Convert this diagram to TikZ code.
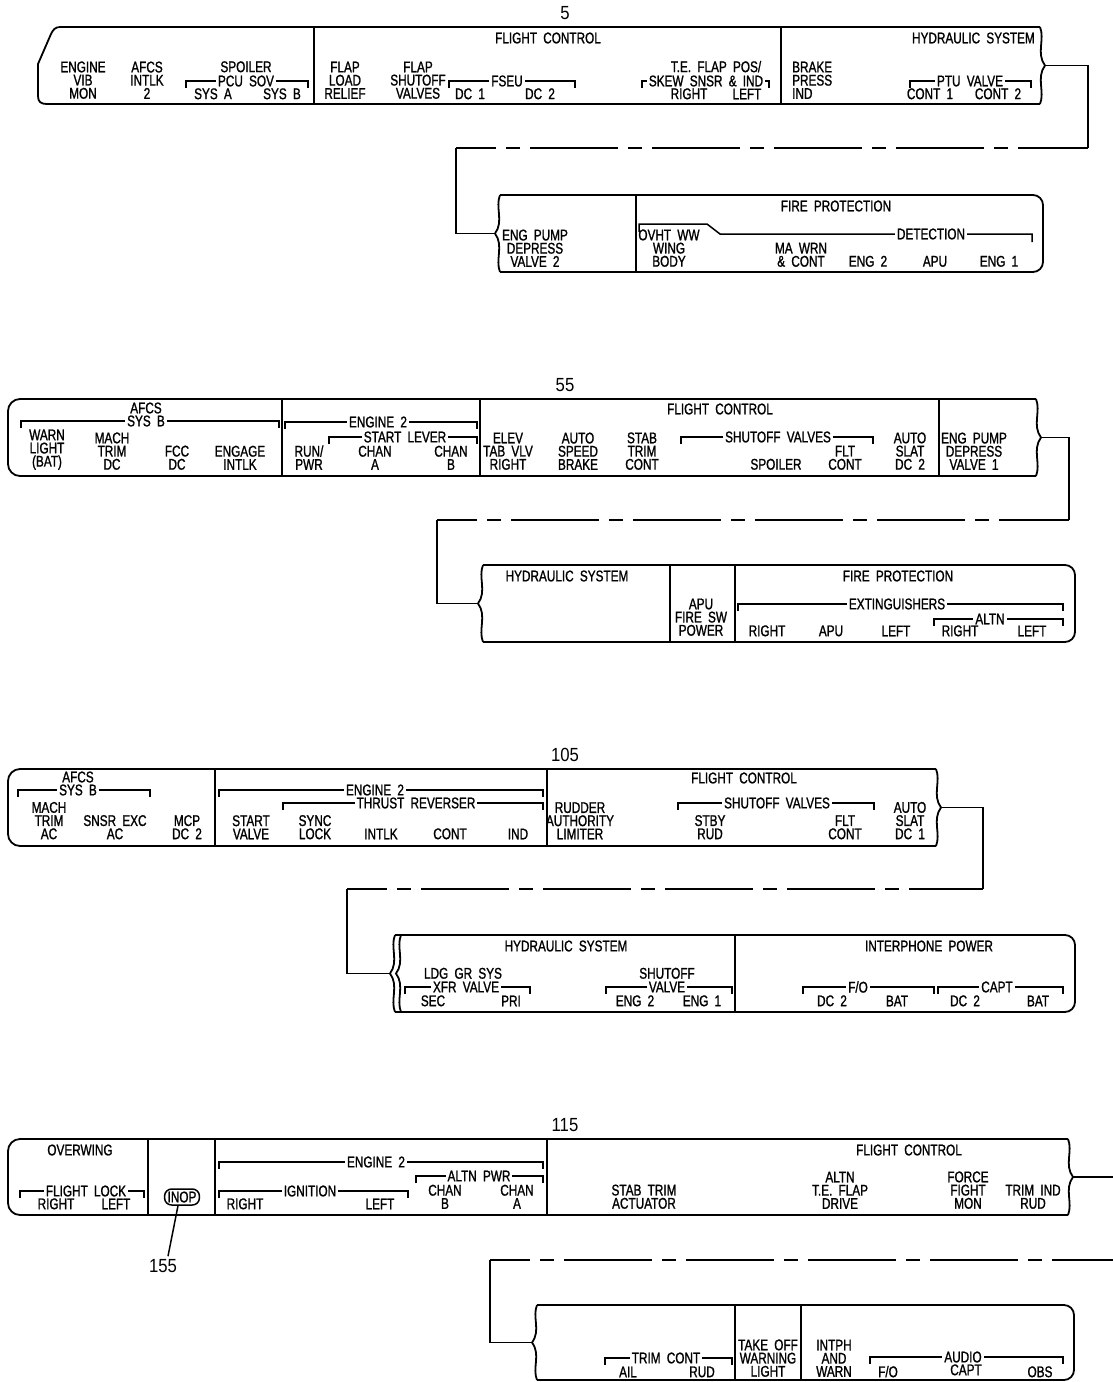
\documentclass[tikz,border=0pt]{standalone}
\usepackage{fontspec}
\setmainfont{Liberation Sans}[FakeStretch=0.76, FakeBold=1.2, WordSpace=1.9]
\newfontfamily\numfont{Liberation Sans}[FakeStretch=0.88]
\newcommand{\capsfont}{\fontsize{15.5}{13.2}\selectfont}

% bracket with ticks and a label sitting on it: name, x1, x2, y, xc, text
\newcommand{\brkt}[6]{%
  \draw[brline] (#2,#4+7) -- (#2,#4) -- (#3,#4) -- (#3,#4+7);
  \node[brtxt] (#1) at (#5,#4) {#6};}
% broken panel edges (brace tip points to the connector)
\newcommand{\wavyR}[3]{%
  \pgfmathsetmacro{\wvmid}{(#2+#3)/2}
  \draw[frame] (#1,#2) .. controls (#1+5,#2+12) and (#1-4,\wvmid-12) .. (#1+5,\wvmid)
    .. controls (#1-4,\wvmid+12) and (#1+5,#3-12) .. (#1,#3);}
\newcommand{\wavyL}[3]{%
  \pgfmathsetmacro{\wvmid}{(#2+#3)/2}
  \draw[frame] (#1,#2) .. controls (#1-5,#2+12) and (#1+4,\wvmid-12) .. (#1-5,\wvmid)
    .. controls (#1+4,\wvmid+12) and (#1-5,#3-12) .. (#1,#3);}

\tikzset{
  frame/.style={line width=1.8pt, line join=round},
  brline/.style={line width=1.5pt},
  lbl/.style={inner sep=0pt, align=center, anchor=south, font=\capsfont},
  ttl/.style={inner sep=0pt, font=\capsfont},
  brtxt/.style={fill=white, inner xsep=2pt, inner ysep=0pt, font=\capsfont},
  refnum/.style={inner sep=0pt, font=\numfont\fontsize{19}{19}\selectfont},
  conn/.style={line width=1.8pt},
  dashln/.style={conn, dash pattern=on 88pt off 10pt on 14pt off 10pt, dash phase=48pt}
}

\begin{document}
\begin{tikzpicture}[x=1pt, y=-1pt]
\useasboundingbox (0,0) rectangle (1113,1382);

% ---------------- row 5 ----------------
\node[refnum] (n5) at (565,13) {5};
\draw[frame] (1040,27) -- (60,27) .. controls (55,27) and (53,30) .. (51,34) -- (38,64)
  -- (38,96) .. controls (38,102) and (41,104) .. (47,104) -- (1040,104);
\wavyR{1040}{27}{104}
\foreach \x in {314,781} \draw[frame] (\x,27) -- (\x,104);
\node[ttl] (fc1) at (548,38) {FLIGHT CONTROL};
\node[ttl, anchor=east] (hs1) at (1035,38) {HYDRAULIC SYSTEM};
\node[lbl] (evm) at (83,99) {ENGINE\\VIB\\MON};
\node[lbl] (afcs1) at (147,99) {AFCS\\INTLK\\2};
\node[lbl] (spl) at (246,72.5) {SPOILER};
\brkt{pcu}{186}{308}{81}{246}{PCU SOV}
\node[lbl] (sysa) at (213,99.5) {SYS A};
\node[lbl] (sysb) at (282,99.5) {SYS B};
\node[lbl] (flr) at (345,99) {FLAP\\LOAD\\RELIEF};
\node[lbl] (fsv) at (418,99) {FLAP\\SHUTOFF\\VALVES};
\brkt{fseu}{449}{575}{81}{507}{FSEU}
\node[lbl] (dc1a) at (470,99.5) {DC 1};
\node[lbl] (dc2a) at (540,99.5) {DC 2};
\node[lbl] (tef) at (716,72.5) {T.E. FLAP POS/};
\brkt{skew}{642}{769}{81}{706}{SKEW SNSR \& IND}
\node[lbl] (rta) at (689,99.5) {RIGHT};
\node[lbl] (lfa) at (747,99.5) {LEFT};
\node[lbl, anchor=south west, align=left] (bpi) at (792,99) {BRAKE\\PRESS\\IND};
\brkt{ptu}{910}{1031}{81}{970}{PTU VALVE}
\node[lbl] (ct1) at (930,99.5) {CONT 1};
\node[lbl] (ct2) at (998,99.5) {CONT 2};

\coordinate (out1) at (1045,65.5);
\coordinate (turn1a) at (1088,148);
\coordinate (turn1b) at (456,148);
\coordinate (in1) at (495,233.5);
\draw[conn] (out1) -| (turn1a);
\draw[dashln] (turn1b) -- (turn1a);
\draw[conn] (turn1b) |- (in1);

\draw[frame, rounded corners=10pt] (500,195) -- (1043,195) -- (1043,272) -- (500,272);
\wavyL{500}{195}{272}
\draw[frame] (636,195) -- (636,272);
\node[lbl] (epd2) at (535,267) {ENG PUMP\\DEPRESS\\VALVE 2};
\node[ttl] (fp1) at (836,206) {FIRE PROTECTION};
\draw[brline] (639,232) -- (639,224) -- (707,224) -- (720,234) -- (1032,234) -- (1032,242);
\node[brtxt] (det) at (931,234) {DETECTION};
\node[lbl] (ovht) at (669,267) {OVHT WW\\WING\\BODY};
\node[lbl] (mawrn) at (801,267) {MA WRN\\\& CONT};
\node[lbl] (e2a) at (868,267) {ENG 2};
\node[lbl] (apua) at (935,267) {APU};
\node[lbl] (e1a) at (999,267) {ENG 1};

% ---------------- row 55 ----------------
\node[refnum] (n55) at (565,385) {55};
\draw[frame, rounded corners=12pt] (1036,399) -- (8,399) -- (8,476) -- (1036,476);
\wavyR{1036}{399}{476}
\foreach \x in {282,480,939} \draw[frame] (\x,399) -- (\x,476);
\node[ttl] (afcs2) at (146,408) {AFCS};
\brkt{sysb2}{21}{279}{421}{146}{SYS B}
\node[lbl] (warn) at (47,470) {WARN\\LIGHT\\(BAT)};
\node[lbl] (mach2) at (112,470) {MACH\\TRIM\\DC};
\node[lbl] (fcc) at (177,470) {FCC\\DC};
\node[lbl] (engi) at (240,470) {ENGAGE\\INTLK};
\brkt{eng2a}{285}{477}{422}{378}{ENGINE 2}
\brkt{stlev}{329}{477}{437}{405}{START LEVER}
\node[lbl] (runpwr) at (309,470) {RUN/\\PWR};
\node[lbl] (chna) at (375,470) {CHAN\\A};
\node[lbl] (chnb) at (451,470) {CHAN\\B};
\node[ttl] (fc2) at (720,409) {FLIGHT CONTROL};
\node[lbl] (elev) at (508,470) {ELEV\\TAB VLV\\RIGHT};
\node[lbl] (asb) at (578,470) {AUTO\\SPEED\\BRAKE};
\node[lbl] (stc) at (642,470) {STAB\\TRIM\\CONT};
\brkt{shv2}{681}{873}{437}{778}{SHUTOFF VALVES}
\node[lbl] (spl2) at (776,470) {SPOILER};
\node[lbl] (flt2) at (845,470) {FLT\\CONT};
\node[lbl] (as2) at (910,470) {AUTO\\SLAT\\DC 2};
\node[lbl] (epd1) at (974,470) {ENG PUMP\\DEPRESS\\VALVE 1};

\coordinate (out2) at (1041,437.5);
\coordinate (turn2a) at (1069,520);
\coordinate (turn2b) at (437,520);
\coordinate (in2) at (478,603.5);
\draw[conn] (out2) -| (turn2a);
\draw[dashln] (turn2b) -- (turn2a);
\draw[conn] (turn2b) |- (in2);

\draw[frame, rounded corners=10pt] (483,565) -- (1075,565) -- (1075,642) -- (483,642);
\wavyL{483}{565}{642}
\foreach \x in {670,735} \draw[frame] (\x,565) -- (\x,642);
\node[ttl] (hs2) at (567,576) {HYDRAULIC SYSTEM};
\node[lbl] (apufs) at (701,636) {APU\\FIRE SW\\POWER};
\node[ttl] (fp2) at (898,576) {FIRE PROTECTION};
\brkt{ext}{738}{1063}{604}{897}{EXTINGUISHERS}
\brkt{altn}{934}{1063}{619}{990}{ALTN}
\node[lbl] (rtb) at (767,636.5) {RIGHT};
\node[lbl] (apub) at (831,636.5) {APU};
\node[lbl] (lfb) at (896,636.5) {LEFT};
\node[lbl] (rtc) at (960,636.5) {RIGHT};
\node[lbl] (lfc) at (1032,636.5) {LEFT};

% ---------------- row 105 ----------------
\node[refnum] (n105) at (565,755) {105};
\draw[frame, rounded corners=12pt] (936,769) -- (8,769) -- (8,846) -- (936,846);
\wavyR{936}{769}{846}
\foreach \x in {215,547} \draw[frame] (\x,769) -- (\x,846);
\node[ttl] (afcs3) at (78,777) {AFCS};
\brkt{sysb3}{18}{150}{790}{78}{SYS B}
\node[lbl] (mach3) at (49,839.5) {MACH\\TRIM\\AC};
\node[lbl] (snsr) at (115,839.5) {SNSR EXC\\AC};
\node[lbl] (mcp) at (187,839.5) {MCP\\DC 2};
\brkt{eng2b}{219}{543}{790}{375}{ENGINE 2}
\brkt{thr}{283}{543}{803}{416}{THRUST REVERSER}
\node[lbl] (stv) at (251,839.5) {START\\VALVE};
\node[lbl] (syl) at (315,839.5) {SYNC\\LOCK};
\node[lbl] (itk) at (381,839.5) {INTLK};
\node[lbl] (cnt) at (450,839.5) {CONT};
\node[lbl] (ind) at (518,839.5) {IND};
\node[ttl] (fc3) at (744,778) {FLIGHT CONTROL};
\node[lbl] (rud) at (580,839.5) {RUDDER\\AUTHORITY\\LIMITER};
\brkt{shv3}{678}{874}{803}{777}{SHUTOFF VALVES}
\node[lbl] (stby) at (710,839.5) {STBY\\RUD};
\node[lbl] (flt3) at (845,839.5) {FLT\\CONT};
\node[lbl] (as1) at (910,839.5) {AUTO\\SLAT\\DC 1};

\coordinate (out3) at (941,807.5);
\coordinate (turn3a) at (983,889);
\coordinate (turn3b) at (347,889);
\coordinate (in3) at (390,973.5);
\draw[conn] (out3) -| (turn3a);
\draw[dashln] (turn3b) -- (turn3a);
\draw[conn] (turn3b) |- (in3);

\draw[frame, rounded corners=10pt] (395,935) -- (1075,935) -- (1075,1012) -- (395,1012);
\wavyL{395}{935}{1012}
\wavyL{401}{935}{1012}
\draw[frame] (735,935) -- (735,1012);
\node[ttl] (hs3) at (566,946) {HYDRAULIC SYSTEM};
\node[lbl] (ldg) at (463,979) {LDG GR SYS};
\brkt{xfr}{405}{530}{987}{466}{XFR VALVE}
\node[lbl] (sec) at (433,1006.5) {SEC};
\node[lbl] (pri) at (511,1006.5) {PRI};
\node[lbl] (shf) at (667,979) {SHUTOFF};
\brkt{vlv}{606}{732}{987}{667}{VALVE}
\node[lbl] (e2b) at (635,1006.5) {ENG 2};
\node[lbl] (e1b) at (702,1006.5) {ENG 1};
\node[ttl] (ipw) at (929,946) {INTERPHONE POWER};
\brkt{fo}{803}{934}{987}{858}{F/O}
\node[lbl] (dc2b) at (832,1006.5) {DC 2};
\node[lbl] (batb) at (897,1006.5) {BAT};
\brkt{capt}{938}{1063}{987}{997}{CAPT}
\node[lbl] (dc2c) at (965,1006.5) {DC 2};
\node[lbl] (batc) at (1038,1006.5) {BAT};

% ---------------- row 115 ----------------
\node[refnum] (n115) at (565,1125) {115};
\draw[frame, rounded corners=12pt] (1068,1139) -- (8,1139) -- (8,1215) -- (1068,1215);
\wavyR{1068}{1139}{1215}
\foreach \x in {148,215,547} \draw[frame] (\x,1139) -- (\x,1215);
\node[ttl] (ovw) at (80,1150) {OVERWING};
\brkt{flk}{20}{144}{1191}{86}{FLIGHT LOCK}
\node[lbl] (rtd) at (56,1209.5) {RIGHT};
\node[lbl] (lfd) at (116,1209.5) {LEFT};
\node[draw, line width=1.5pt, rounded corners=7pt, inner xsep=3pt, inner ysep=2.5pt, font=\capsfont] (inop) at (182,1197) {INOP};
\node[refnum] (n155) at (163,1266) {155};
\draw[brline] ([xshift=-4pt]inop.south) -- ([xshift=5pt,yshift=3pt]n155.north);
\brkt{eng2c}{219}{543}{1162}{376}{ENGINE 2}
\brkt{ign}{219}{408}{1191}{310}{IGNITION}
\node[lbl] (rte) at (245,1209.5) {RIGHT};
\node[lbl] (lfe) at (380,1209.5) {LEFT};
\brkt{apwr}{416}{543}{1176}{479}{ALTN PWR}
\node[lbl] (chnb4) at (445,1209) {CHAN\\B};
\node[lbl] (chna4) at (517,1209) {CHAN\\A};
\node[ttl] (fc4) at (909,1150) {FLIGHT CONTROL};
\node[lbl] (sta) at (644,1209) {STAB TRIM\\ACTUATOR};
\node[lbl] (atef) at (840,1209) {ALTN\\T.E. FLAP\\DRIVE};
\node[lbl] (ffm) at (968,1209) {FORCE\\FIGHT\\MON};
\node[lbl] (tir) at (1033,1209) {TRIM IND\\RUD};

\coordinate (out4) at (1073,1177);
\coordinate (edge4a) at (1113,1177);
\coordinate (edge4b) at (1113,1260);
\coordinate (turn4) at (490,1260);
\coordinate (in4) at (532,1342.5);
\draw[conn] (out4) -- (edge4a);
\draw[dashln] (turn4) -- (edge4b);
\draw[conn] (turn4) |- (in4);

\draw[frame, rounded corners=10pt] (537,1305) -- (1074,1305) -- (1074,1380) -- (537,1380);
\wavyL{537}{1305}{1380}
\foreach \x in {735,801} \draw[frame] (\x,1305) -- (\x,1380);
\brkt{trc}{605}{732}{1358}{666}{TRIM CONT}
\node[lbl] (ail) at (628,1377.5) {AIL};
\node[lbl] (rudb) at (702,1377.5) {RUD};
\node[lbl] (tow) at (768,1377) {TAKE OFF\\WARNING\\LIGHT};
\node[lbl] (ipaw) at (834,1377) {INTPH\\AND\\WARN};
\brkt{aud}{870}{1063}{1357}{963}{AUDIO}
\node[lbl] (fob) at (888,1377.5) {F/O};
\node[lbl] (captb) at (966,1375.5) {CAPT};
\node[lbl] (obs) at (1040,1377.5) {OBS};
\end{tikzpicture}
\end{document}
